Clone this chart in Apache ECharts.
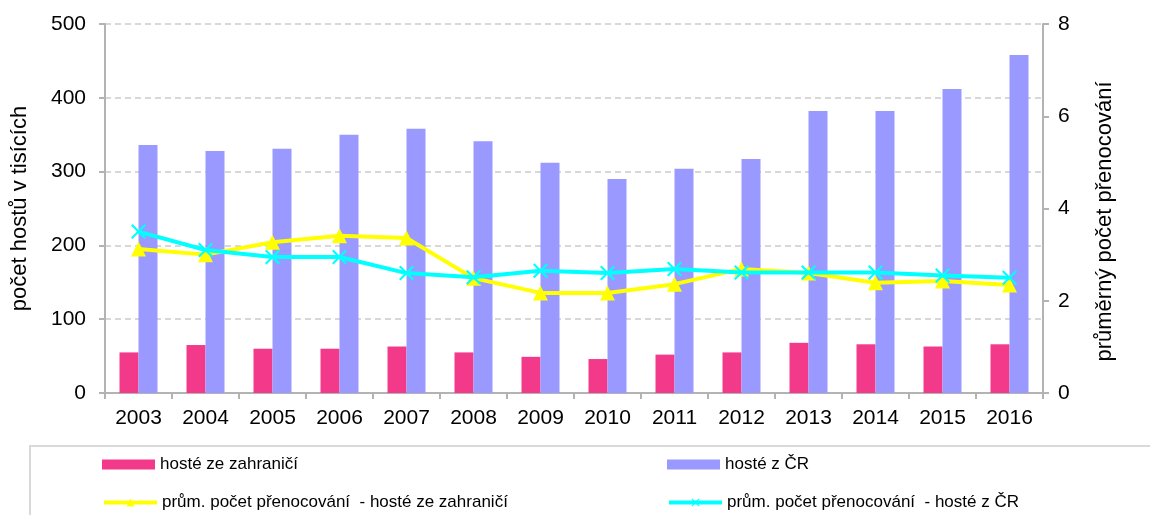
<!DOCTYPE html>
<html>
<head>
<meta charset="utf-8">
<script src="https://cdn.jsdelivr.net/npm/echarts@6/dist/echarts.min.js"></script>
<style>
  html, body { margin: 0; padding: 0; background: #fff; }
  #chart { width: 1150px; height: 515px; }
</style>
</head>
<body>
<div id="chart"></div>
<script>
const years = ["2003", "2004", "2005", "2006", "2007", "2008", "2009", "2010", "2011", "2012", "2013", "2014", "2015", "2016"];
const guestsForeign = [55, 65, 60, 60, 63, 55, 49, 46, 52, 55, 68, 66, 63, 66];
const guestsDomestic = [336, 328, 331, 350, 358, 341, 312, 290, 304, 317, 382, 382, 412, 458];
const staysForeign = [3.12, 3.0, 3.27, 3.41, 3.36, 2.49, 2.17, 2.17, 2.36, 2.69, 2.6, 2.39, 2.43, 2.34];
const staysDomestic = [3.5, 3.1, 2.95, 2.95, 2.6, 2.51, 2.65, 2.6, 2.69, 2.61, 2.61, 2.61, 2.55, 2.5];

const names = [
  "hosté ze zahraničí",
  "hosté z ČR",
  "prům. počet přenocování  - hosté ze zahraničí",
  "prům. počet přenocování  - hosté z ČR"
];

const font = "'Liberation Sans', Arial, sans-serif";
const axisGray = "#b3b3b3";
const crossPath = "path://M0,1L1,0L5,4L9,0L10,1L6,5L10,9L9,10L5,6L1,10L0,9L4,5Z";

function legendAt(name, left, top, isBar) {
  const lg = {
    data: [isBar ? { name: name, icon: "rect" } : name],
    left: left,
    top: top,
    orient: "horizontal",
    itemWidth: 53,
    itemHeight: 10,
    selectedMode: false,
    padding: 0,
    textStyle: { fontFamily: font, fontSize: 17, color: "#000" }
  };
  if (!isBar) lg.lineStyle = { width: 4 };
  return lg;
}

const chart = echarts.init(document.getElementById("chart"), null, { renderer: "canvas" });
chart.setOption({
  animation: false,
  textStyle: { fontFamily: font },
  grid: { left: 105, right: 107, top: 24, bottom: 122 },
  graphic: [{
    type: "rect",
    shape: { x: 30, y: 446, width: 1150, height: 80 },
    style: { fill: "none", stroke: "#d9d9d9", lineWidth: 2 },
    z: -1
  }],
  legend: [
    legendAt(names[0], 102, 456, true),
    legendAt(names[1], 667, 456, true),
    legendAt(names[2], 102, 494, false),
    legendAt(names[3], 667, 494, false)
  ],
  xAxis: {
    type: "category",
    data: years,
    axisLine: { lineStyle: { color: axisGray, width: 2 } },
    axisTick: { show: true, length: 6, lineStyle: { color: axisGray, width: 2 } },
    axisLabel: { color: "#000", fontSize: 21, margin: 15, fontFamily: font }
  },
  yAxis: [{
    type: "value",
    min: 0, max: 500, interval: 100,
    name: "počet hostů v tisících",
    nameLocation: "middle",
    nameGap: 74,
    nameTextStyle: { color: "#000", fontSize: 22, fontFamily: font },
    axisLine: { show: true, lineStyle: { color: axisGray, width: 2 } },
    axisTick: { show: true, length: 6, lineStyle: { color: axisGray, width: 2 } },
    axisLabel: { color: "#000", fontSize: 21, margin: 19, fontFamily: font },
    splitLine: { lineStyle: { color: "#cccccc", type: [6, 4], width: 1.5 } }
  }, {
    type: "value",
    min: 0, max: 8, interval: 2,
    name: "průměrný počet přenocování",
    nameLocation: "middle",
    nameRotate: 90,
    nameGap: 51,
    nameTextStyle: { color: "#000", fontSize: 22, fontFamily: font, padding: [0, 26, 0, 0] },
    axisLine: { show: true, lineStyle: { color: axisGray, width: 2 } },
    axisTick: { show: true, length: 6, lineStyle: { color: axisGray, width: 2 } },
    axisLabel: { color: "#000", fontSize: 21, margin: 15, fontFamily: font },
    splitLine: { show: false }
  }],
  series: [{
    name: names[0],
    type: "bar",
    data: guestsForeign,
    barWidth: 19,
    barGap: "0%",
    itemStyle: { color: "#f33a8a" }
  }, {
    name: names[1],
    type: "bar",
    data: guestsDomestic,
    barWidth: 19,
    barGap: "0%",
    itemStyle: { color: "#9999ff" }
  }, {
    name: names[2],
    type: "line",
    yAxisIndex: 1,
    data: staysForeign,
    symbol: "triangle",
    symbolSize: 15,
    lineStyle: { color: "#ffff00", width: 4 },
    itemStyle: { color: "#ffff00" },
    z: 3
  }, {
    name: names[3],
    type: "line",
    yAxisIndex: 1,
    data: staysDomestic,
    symbol: crossPath,
    symbolSize: 15,
    lineStyle: { color: "#00ffff", width: 4 },
    itemStyle: { color: "#00ffff" },
    z: 4
  }]
});
</script>
</body>
</html>
